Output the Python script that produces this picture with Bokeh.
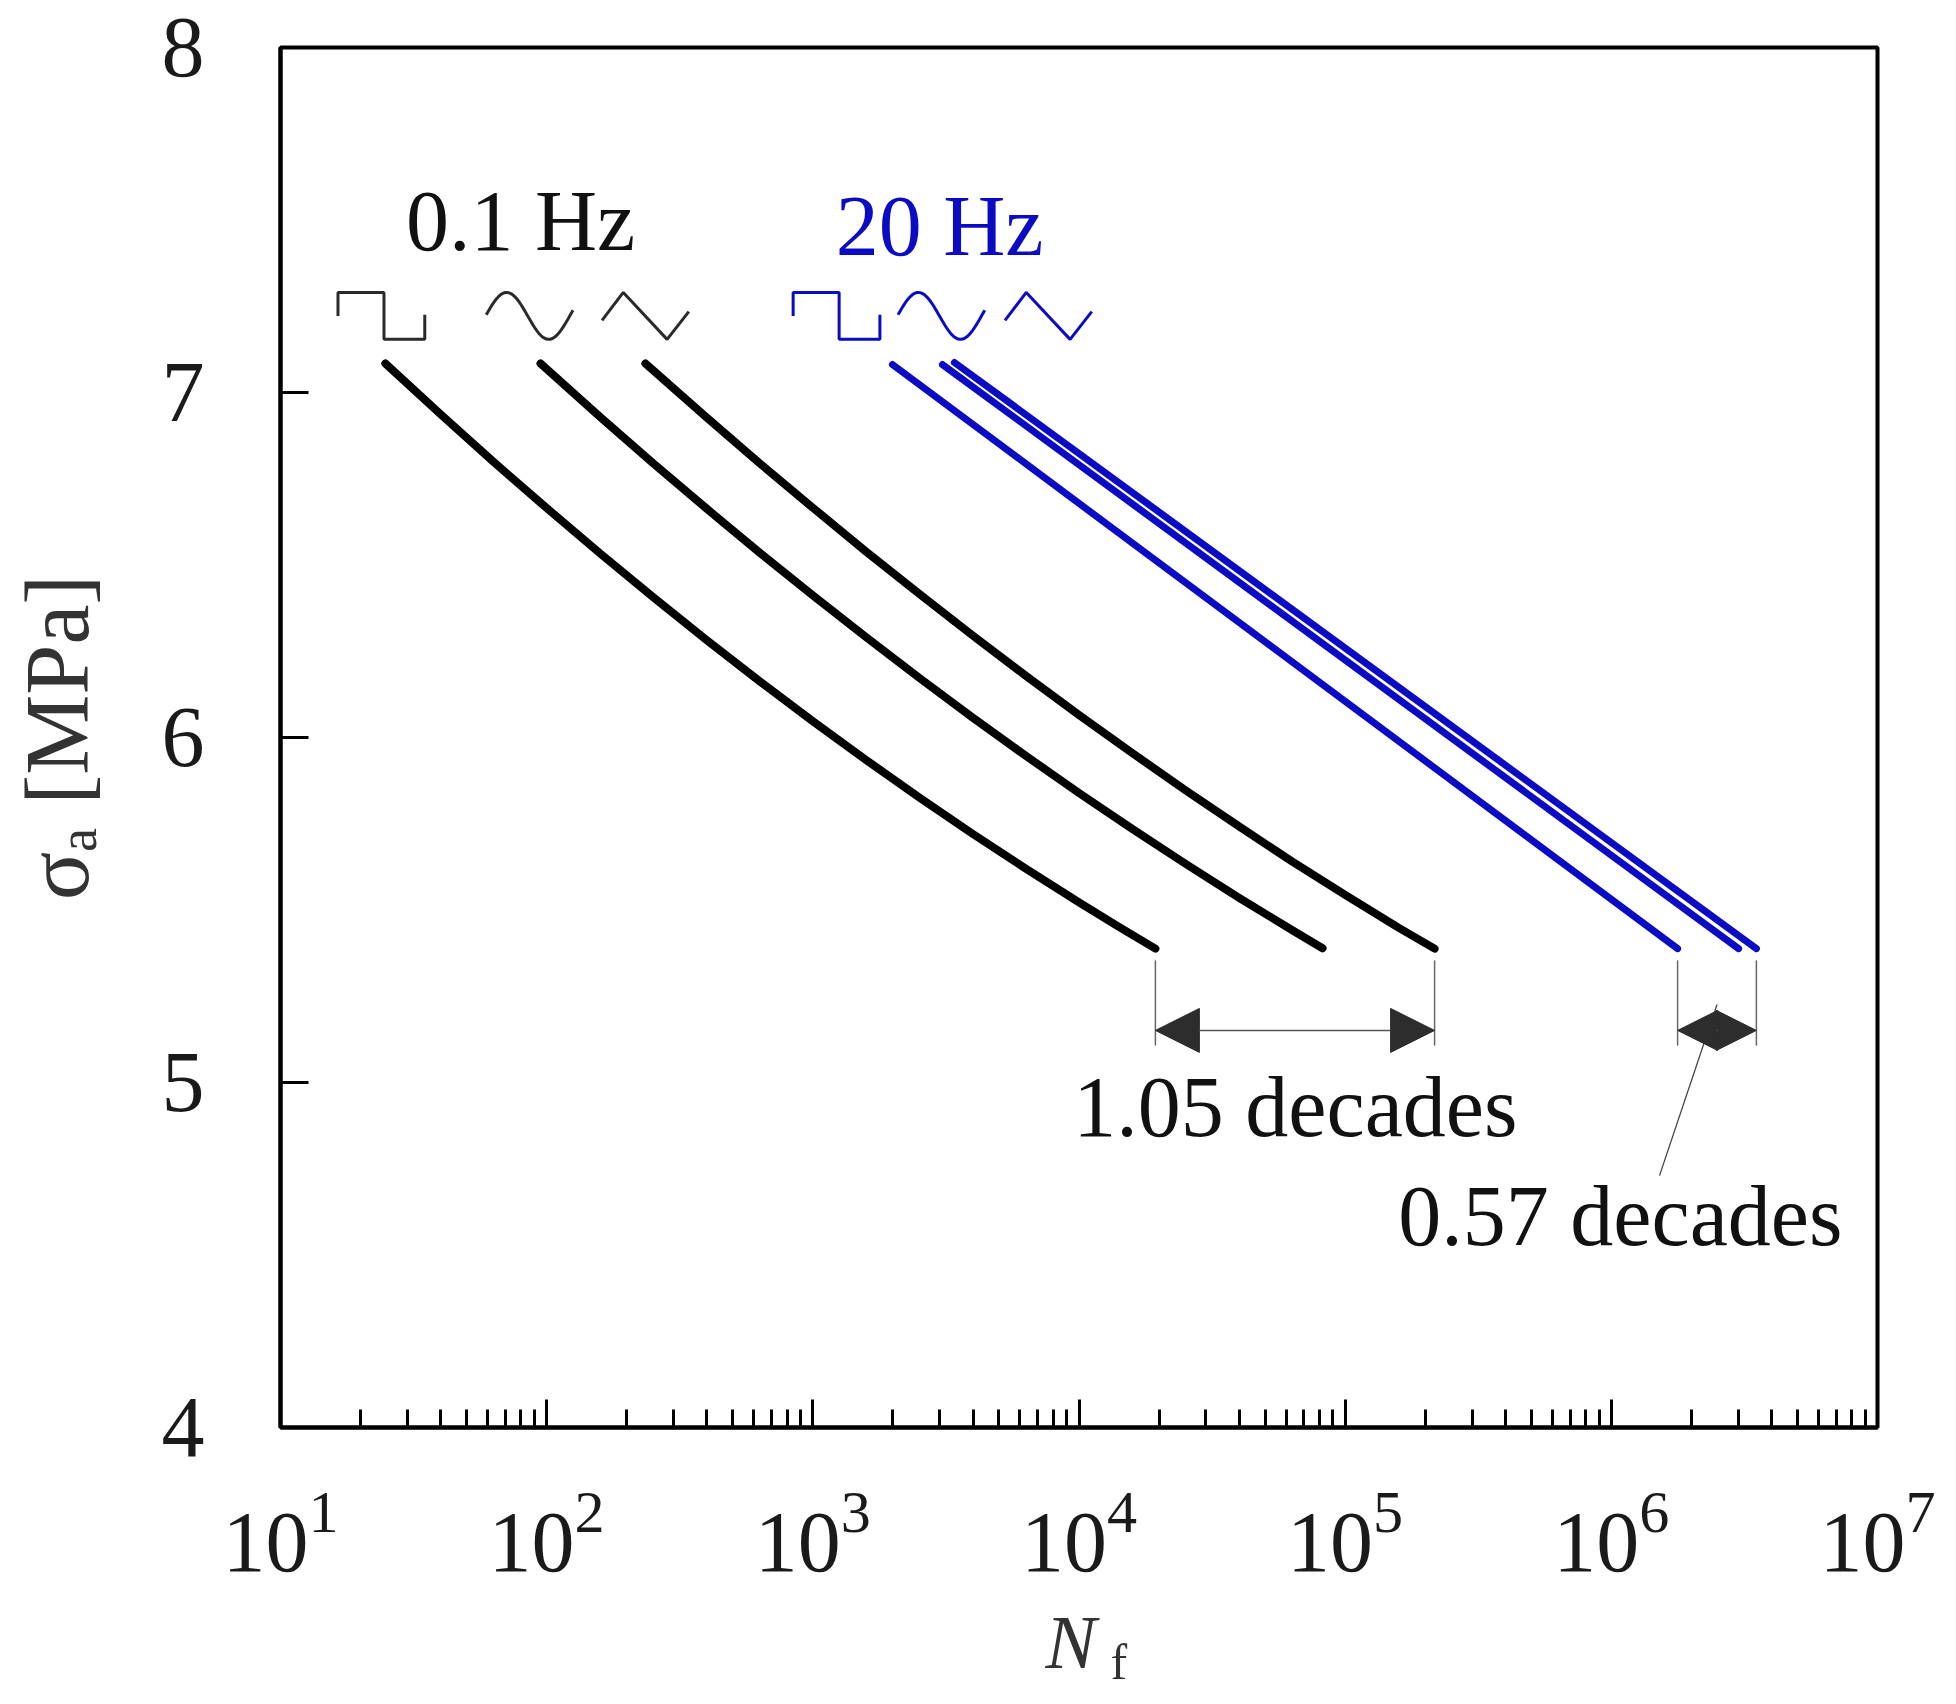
import numpy as np
from bokeh.plotting import figure
from bokeh.layouts import column
from bokeh.models import FixedTicker, Label, Arrow, NormalHead
from bokeh.embed import file_html
from bokeh.resources import INLINE

# ---------------- data ----------------
# black curves, 0.1 Hz : log10(Nf) and sigma_a [MPa]
sq01_logN = [1.394, 1.6, 1.8, 2.0, 2.2, 2.4, 2.6, 2.8, 3.0, 3.2, 3.4, 3.6, 3.8, 4.0, 4.15, 4.287]
sq01_s    = [7.084, 6.938, 6.799, 6.665, 6.534, 6.407, 6.283, 6.163, 6.047, 5.935, 5.826, 5.721,
             5.620, 5.522, 5.451, 5.388]
sin01_logN = [1.977, 2.2, 2.4, 2.6, 2.8, 3.0, 3.2, 3.4, 3.6, 3.8, 4.0, 4.2, 4.4, 4.6, 4.8, 4.915]
sin01_s    = [7.084, 6.930, 6.795, 6.664, 6.536, 6.412, 6.291, 6.173, 6.058, 5.947, 5.839, 5.735,
              5.634, 5.536, 5.442, 5.389]
tri01_logN = [2.371, 2.6, 2.8, 3.0, 3.2, 3.4, 3.6, 3.8, 4.0, 4.2, 4.4, 4.6, 4.8, 5.0, 5.2, 5.336]
tri01_s    = [7.084, 6.928, 6.795, 6.666, 6.539, 6.416, 6.296, 6.179, 6.065, 5.955, 5.847, 5.743,
              5.641, 5.544, 5.449, 5.388]
# blue lines, 20 Hz
sq20_logN = [3.299, 6.249]
sq20_s    = [7.081, 5.388]
sin20_logN = [3.487, 6.478]
sin20_s    = [7.081, 5.388]
tri20_logN = [3.532, 6.545]
tri20_s    = [7.087, 5.388]

x_decades = [1, 2, 3, 4, 5, 6, 7]
y_ticks = [4, 5, 6, 7, 8]

# waveform icons: centre positions (log10 N)
icon_kinds = ["square", "sine", "triangle"]
icon_black_logN = [1.379, 1.936, 2.371]
icon_blue_logN = [3.089, 3.483, 3.885]
icon_s = 7.222

BLUE = "#0b0bc4"
BLACK = "#000000"
FONT = "Liberation Serif"

p = figure(x_axis_type="log", x_range=(10, 1e7), y_range=(4, 8),
           frame_width=1597, frame_height=1380,
           min_border_left=280, min_border_right=75, min_border_top=47, min_border_bottom=168,
           output_backend="svg", toolbar_location=None)
p.background_fill_color = "white"
p.border_fill_color = "white"
p.outline_line_color = "black"
p.outline_line_width = 4
p.grid.visible = False

p.xaxis.ticker = FixedTicker(ticks=[10.0 ** k for k in x_decades],
                             minor_ticks=[m * 10.0 ** k for k in x_decades[:-1] for m in range(2, 10)])
p.yaxis.ticker = FixedTicker(ticks=y_ticks, minor_ticks=[])

for ax in (p.xaxis[0], p.yaxis[0]):
    ax.axis_line_width = 4
    ax.axis_line_color = "black"
    ax.major_tick_line_width = 3
    ax.minor_tick_line_width = 3
    ax.major_tick_in = 28
    ax.major_tick_out = 0
    ax.minor_tick_in = 18
    ax.minor_tick_out = 0
    ax.major_label_text_font = FONT
    ax.major_label_text_font_size = "86px"
    ax.major_label_text_color = "#1a1a1a"

p.yaxis.major_label_standoff = 76
p.xaxis.major_label_standoff = 64
p.yaxis.axis_label = "σₐ [MPa]"
p.yaxis.axis_label_text_font = FONT
p.yaxis.axis_label_text_font_size = "90px"
p.yaxis.axis_label_text_font_style = "normal"
p.yaxis.axis_label_text_color = "#333333"
p.yaxis.axis_label_standoff = 52

# curves
def pw(v):
    return [10.0 ** a for a in v]

for lx, ly in [(sq01_logN, sq01_s), (sin01_logN, sin01_s), (tri01_logN, tri01_s)]:
    p.line(pw(lx), ly, line_color=BLACK, line_width=8, line_cap="round", line_join="round")
for lx, ly in [(sq20_logN, sq20_s), (sin20_logN, sin20_s), (tri20_logN, tri20_s)]:
    p.line(pw(lx), ly, line_color=BLUE, line_width=7, line_cap="round")

# waveform icons
HW = 0.163   # half width in decades
HH = 0.068   # half height in MPa
def icon_shape(kind):
    if kind == "square":
        u = np.array([-1, -1, 0.06, 0.06, 1, 1])
        v = np.array([0, 1, 1, -1, -1, 0.05])
    elif kind == "sine":
        u = np.linspace(-1, 1, 60)
        v = np.sin(np.pi / 2 + (u + 0.53) * np.pi / 0.97)
    else:
        u = np.array([-1, -0.51, 0.5, 1])
        v = np.array([-0.19, 1, -1, 0.18])
    return u, v

for centres, col in [(icon_black_logN, "#2a2a2a"), (icon_blue_logN, BLUE)]:
    for c, kind in zip(centres, icon_kinds):
        u, v = icon_shape(kind)
        p.line(list(10.0 ** (c + u * HW)), list(icon_s + v * HH), line_color=col, line_width=3)

# frequency labels
p.add_layout(Label(x=10 ** 1.902, y=7.497, text="0.1 Hz", text_font=FONT, text_font_size="86px",
                   text_color="#111111", text_align="center", text_baseline="alphabetic"))
p.add_layout(Label(x=10 ** 3.476, y=7.484, text="20 Hz", text_font=FONT, text_font_size="86px",
                   text_color=BLUE, text_align="center", text_baseline="alphabetic"))

# dimension lines
dim_top, dim_bot, dim_y = 5.354, 5.107, 5.151
ends_left = [sq01_logN[-1], tri01_logN[-1]]
ends_right = [sq20_logN[-1], tri20_logN[-1]]
for e in ends_left + ends_right:
    p.segment(x0=[10 ** e], y0=[dim_top], x1=[10 ** e], y1=[dim_bot], line_color="#666666", line_width=1.5)

# leader line for 0.57 decades (drawn first, the arrow head covers it)
mid_right = (ends_right[0] + ends_right[1]) / 2
p.line([10 ** mid_right, 10 ** 6.181], [dim_y + 0.075, 4.730], line_color="#444444", line_width=1.3)

p.add_layout(Arrow(start=NormalHead(size=44, fill_color="#2d2d2d", line_color="#2d2d2d"),
                   end=NormalHead(size=44, fill_color="#2d2d2d", line_color="#2d2d2d"),
                   x_start=10 ** ends_left[0], y_start=dim_y, x_end=10 ** ends_left[1], y_end=dim_y,
                   line_color="#555555", line_width=1.5))
p.add_layout(Arrow(start=NormalHead(size=40, fill_color="#2d2d2d", line_color="#2d2d2d"),
                   end=NormalHead(size=40, fill_color="#2d2d2d", line_color="#2d2d2d"),
                   x_start=10 ** ends_right[0], y_start=dim_y, x_end=10 ** ends_right[1], y_end=dim_y,
                   line_color="#555555", line_width=1.5))

p.add_layout(Label(x=10 ** 4.813, y=4.930, text="1.05 decades", text_font=FONT, text_font_size="86px",
                   text_color="#111111", text_align="center", text_baseline="alphabetic"))
p.add_layout(Label(x=10 ** 6.034, y=4.612, text="0.57 decades", text_font=FONT, text_font_size="86px",
                   text_color="#111111", text_align="center", text_baseline="alphabetic"))

# strip below the plot that carries the x-axis title N_f
p2 = figure(x_axis_type="log", x_range=p.x_range, y_range=(0, 1),
            frame_width=1597, frame_height=105,
            min_border_left=280, min_border_right=75, min_border_top=0, min_border_bottom=0,
            x_axis_location=None, y_axis_location=None,
            output_backend="svg", toolbar_location=None)
p2.grid.visible = False
p2.outline_line_color = None
p2.background_fill_color = "white"
p2.border_fill_color = "white"
# strip spans page y 1595..1700; N baseline ~1667, f baseline ~1678
p2.add_layout(Label(x=10 ** 3.874, y=0.56, text="N", text_font=FONT, text_font_size="76px",
                    text_font_style="italic", text_color="#333333", text_baseline="alphabetic"))
p2.add_layout(Label(x=10 ** 4.118, y=0.37, text="f", text_font=FONT, text_font_size="50px",
                    text_color="#333333", text_baseline="alphabetic"))

layout = column(p, p2, spacing=0)
open("out.html", "w").write(file_html(layout, INLINE))
